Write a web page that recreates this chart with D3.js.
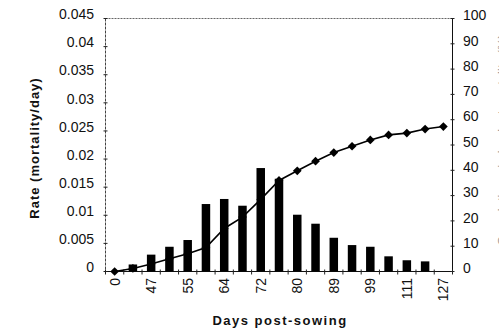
<!DOCTYPE html>
<html>
<head>
<meta charset="utf-8">
<script src="https://cdn.jsdelivr.net/npm/d3@7/dist/d3.min.js"></script>
<style>
  body{margin:0;background:#fff;}
  svg{display:block;font-family:"Liberation Sans",Arial,sans-serif;}
  .lbl{font-size:14px;fill:#111;}
  .ttl{font-size:13px;font-weight:bold;fill:#111;}
</style>
</head>
<body>
<div id="chart"></div>
<script>
// days post-sowing (every other one is labelled on the axis)
var days = ["0","43","47","51","55","59","64","68","72","76","80","85","89","94","99","106","111","118","127"];
// daily mortality rate (bars, left axis)
var rate = [0,0.00125,0.003,0.0044,0.0056,0.012,0.0129,0.0117,0.0184,0.0165,0.0101,0.0085,0.006,0.0047,0.0044,0.0027,0.002,0.0018,0];
// cumulative mortality % (line, right axis)
var cumul = [0,1.2,3,5,7,9.5,17,21.5,28.5,36,39.8,43.6,47,49.5,52,54,54.7,56.3,57.3];
var rateTicks = [0,0.005,0.01,0.015,0.02,0.025,0.03,0.035,0.04,0.045];
var pctTicks = [0,10,20,30,40,50,60,70,80,90,100];

var W = 499, H = 330;
var pLeft = 105.5, pRight = 452.5, pTop = 18.5, pBottom = 271.5;

var svg = d3.select("#chart").append("svg").attr("width",W).attr("height",H);

var x = d3.scaleBand().domain(days).range([pLeft,pRight]).paddingInner(0).paddingOuter(0);
var yL = d3.scaleLinear().domain([0,0.045]).range([pBottom,pTop]);
var yR = d3.scaleLinear().domain([0,100]).range([pBottom,pTop]);

// frame
svg.append("line").attr("x1",pLeft).attr("x2",pRight).attr("y1",pTop).attr("y2",pTop)
   .style("stroke","#666").attr("stroke-dasharray","2,1");
svg.append("line").attr("x1",pLeft).attr("x2",pLeft).attr("y1",pTop).attr("y2",pBottom)
   .style("stroke","#444").attr("stroke-dasharray","3,1");
svg.append("line").attr("x1",pRight).attr("x2",pRight).attr("y1",pTop).attr("y2",pBottom)
   .style("stroke","#111");
svg.append("line").attr("x1",pLeft).attr("x2",pRight).attr("y1",pBottom).attr("y2",pBottom)
   .style("stroke","#111");

// left axis ticks + labels
rateTicks.forEach(function(t){
	svg.append("line").attr("x1",pLeft-2).attr("x2",pLeft+2).attr("y1",yL(t)).attr("y2",yL(t)).style("stroke","#222");
	svg.append("text").attr("class","lbl").attr("x",94).attr("y",yL(t)-3)
	   .attr("text-anchor","end").attr("dominant-baseline","middle").text(t);
});
// right axis ticks + labels
pctTicks.forEach(function(t){
	svg.append("line").attr("x1",pRight-2).attr("x2",pRight+2).attr("y1",yR(t)).attr("y2",yR(t)).style("stroke","#222");
	svg.append("text").attr("class","lbl").attr("x",463).attr("y",yR(t)-2)
	   .attr("dominant-baseline","middle").text(t);
});
// category boundary ticks
d3.range(days.length+1).forEach(function(i){
	var xx = pLeft + i*x.step();
	svg.append("line").attr("x1",xx).attr("x2",xx).attr("y1",pBottom-2).attr("y2",pBottom+3).style("stroke","#222");
});
// x labels, every other category
days.forEach(function(d,i){
	if(i%2) return;
	var cx = x(d)+x.bandwidth()/2;
	svg.append("text").attr("class","lbl")
	   .attr("transform","translate("+(cx+5)+",278) rotate(-90)")
	   .attr("text-anchor","end").text(d);
});

// bars
var bw = 8.5;
svg.selectAll("rect.bar").data(rate).enter().append("rect")
   .attr("class","bar")
   .attr("x",function(d,i){return x(days[i])+x.bandwidth()/2-bw/2;})
   .attr("y",function(d){return yL(d);})
   .attr("width",bw)
   .attr("height",function(d){return pBottom-yL(d);})
   .style("fill","#000");

// cumulative line
var line = d3.line()
	.x(function(d,i){return x(days[i])+x.bandwidth()/2;})
	.y(function(d){return yR(d);});
svg.append("path").datum(cumul).attr("d",line)
   .style("fill","none").style("stroke","#000").style("stroke-width",1.6);
svg.selectAll("path.pt").data(cumul).enter().append("path")
   .attr("class","pt")
   .attr("d",d3.symbol().type(d3.symbolSquare).size(38))
   .attr("transform",function(d,i){return "translate("+(x(days[i])+x.bandwidth()/2)+","+yR(d)+") rotate(45)";})
   .style("fill","#000");

// titles
svg.append("text").attr("class","ttl")
   .attr("transform","translate(39,148) rotate(-90)")
   .attr("text-anchor","middle").style("letter-spacing","1px")
   .text("Rate (mortality/day)");
svg.append("text").attr("class","ttl")
   .attr("x",280).attr("y",325).attr("text-anchor","middle")
   .style("letter-spacing","1.5px").text("Days post-sowing");
// secondary axis title, cut off by the right edge like in the source
svg.append("text").attr("class","ttl")
   .attr("transform","translate(507,140) rotate(-90)")
   .attr("text-anchor","middle").style("fill","#999").style("font-weight","normal")
   .text("Cumulative whole-plant mortality (%)");
</script>
</body>
</html>
